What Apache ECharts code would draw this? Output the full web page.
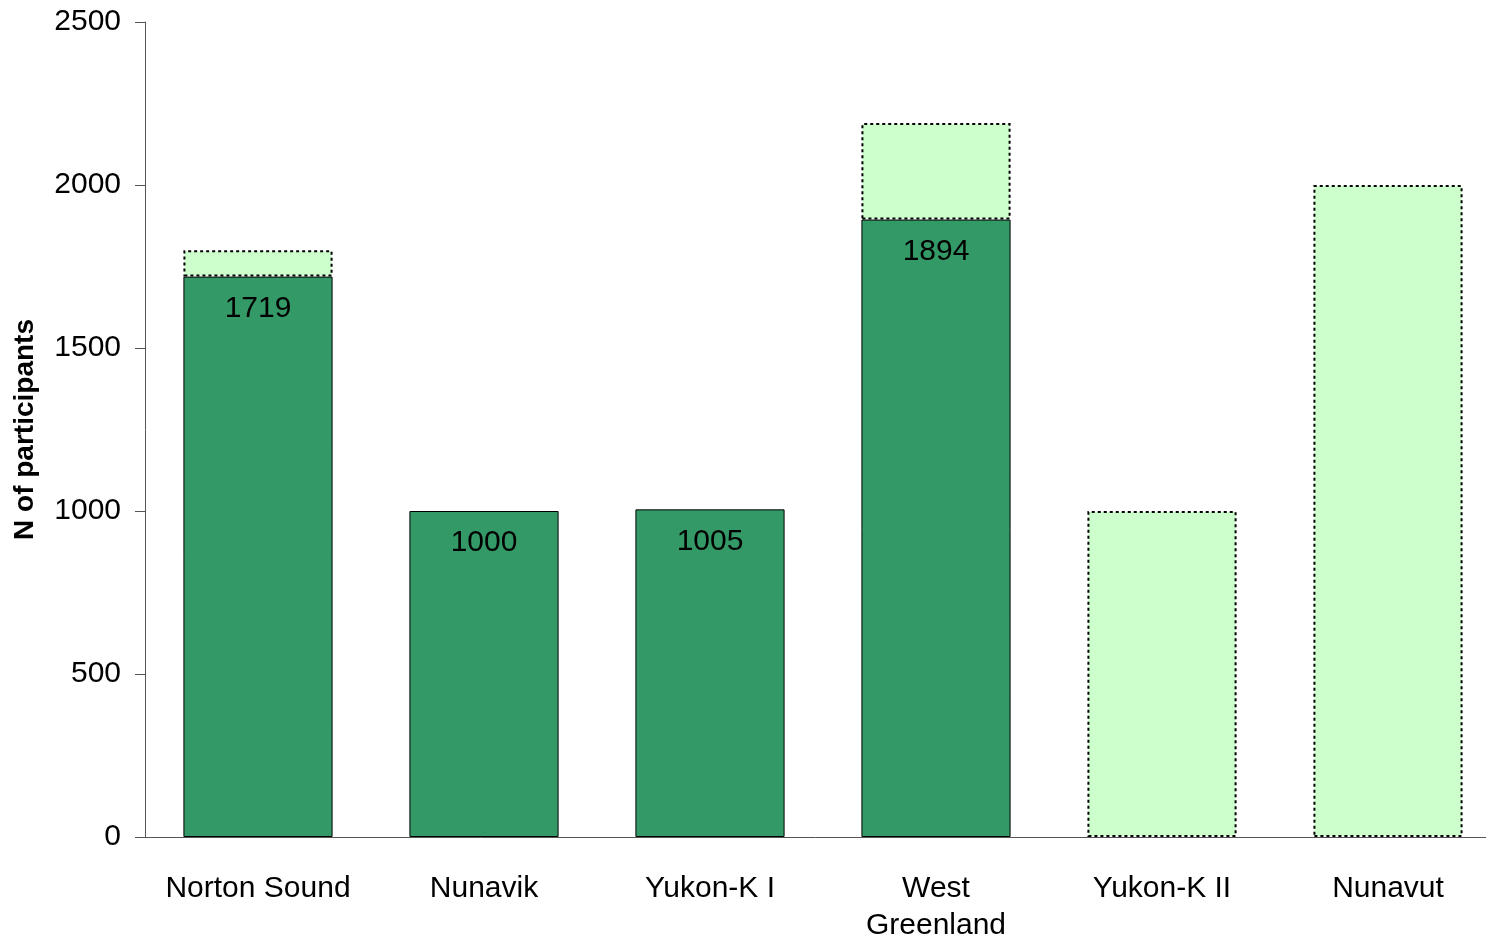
<!DOCTYPE html>
<html>
<head>
<meta charset="utf-8">
<script src="https://cdn.jsdelivr.net/npm/echarts@6/dist/echarts.min.js"></script>
<style>
  html, body { margin: 0; padding: 0; background: #fff; overflow: hidden; }
  #myChart { width: 1486px; height: 938px; }
</style>
</head>
<body>
<div id="myChart"></div>
<script>
// categories and values
var regions = ['Norton Sound', 'Nunavik', 'Yukon-K I', 'West\nGreenland', 'Yukon-K II', 'Nunavut']
var enrolled = [1719, 1000, 1005, 1894, null, null]
// planned extra on top of enrolled (light bars)
var planned = [81, null, null, 296, 1000, 2000]
var yTicks = [0, 500, 1000, 1500, 2000, 2500]

var myChart = echarts.init(document.getElementById('myChart'))
var option = {
  animation: false,
  textStyle: { fontFamily: 'Liberation Sans, Arial, sans-serif' },
  // plot area runs a little past the right edge, like the original
  grid: { left: 145, right: -15, top: 22, bottom: 101, outerBoundsMode: 'none', containLabel: false },
  xAxis: {
    type: 'category',
    data: regions,
    axisLine: { lineStyle: { color: '#555', width: 1 } },
    axisTick: { show: false },
    axisLabel: { color: '#000', fontSize: 30, margin: 33, lineHeight: 37, interval: 0 }
  },
  yAxis: {
    type: 'value',
    min: yTicks[0],
    max: yTicks[yTicks.length - 1],
    interval: 500,
    name: 'N of participants',
    nameLocation: 'middle',
    nameGap: 106,
    nameTextStyle: { color: '#000', fontSize: 28, fontWeight: 'bold' },
    axisLine: { show: true, lineStyle: { color: '#555', width: 1 } },
    axisTick: { show: true, inside: false, length: 10, lineStyle: { color: '#555' } },
    axisLabel: { color: '#000', fontSize: 30, margin: 24, padding: [6, 0, 0, 0], formatter: function (v) { return String(v) } },
    splitLine: { show: false }
  },
  series: [
    {
      name: 'enrolled',
      type: 'bar',
      stack: 'n',
      barWidth: '66%',
      data: enrolled,
      itemStyle: { color: '#339966', borderColor: '#000', borderWidth: 1 },
      label: {
        show: true,
        position: 'insideTop',
        distance: 17,
        color: '#000',
        fontSize: 30
      }
    },
    {
      name: 'planned',
      type: 'bar',
      stack: 'n',
      barWidth: '66%',
      data: planned,
      itemStyle: { color: '#CCFFCC', borderColor: '#000', borderWidth: 2, borderType: [3, 3] }
    }
  ]
}
myChart.setOption(option)
</script>
</body>
</html>
